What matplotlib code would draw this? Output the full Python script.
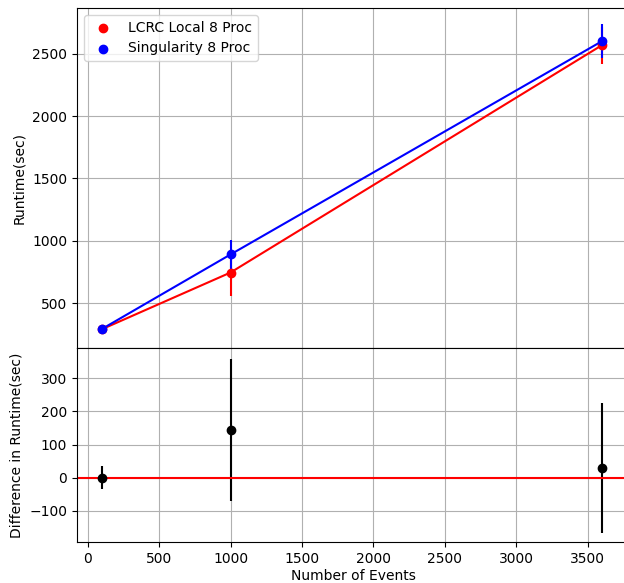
import matplotlib
matplotlib.use("Agg")
import matplotlib.pyplot as plt
import numpy as np

events = [100, 1000, 3600]
lcrc_runtime = [290, 745, 2570]
lcrc_err = [20, 185, 150]
sing_runtime = [292, 890, 2602]
sing_err = [20, 118, 138]
diff = [0, 145, 30]
diff_err = [35, 215, 197]

fig = plt.figure(figsize=(6.24, 5.83), dpi=100)
W, H = 624, 583
ax1 = fig.add_axes([77 / W, 1 - 348 / H, (629 - 77) / W, (348 - 8) / H])
ax2 = fig.add_axes([77 / W, 1 - 542 / H, (629 - 77) / W, (542 - 348) / H], sharex=ax1)

ax1.errorbar(events, lcrc_runtime, yerr=lcrc_err, color='red', fmt='none', ecolor='red')
ax1.plot(events, lcrc_runtime, color='red')
ax1.scatter(events, lcrc_runtime, color='red', label='LCRC Local 8 Proc', zorder=3)
ax1.errorbar(events, sing_runtime, yerr=sing_err, color='blue', fmt='none', ecolor='blue')
ax1.plot(events, sing_runtime, color='blue')
ax1.scatter(events, sing_runtime, color='blue', label='Singularity 8 Proc', zorder=3)
ax1.set_ylabel('Runtime(sec)')
ax1.grid(True)
ax1.legend(loc='upper left')
ax1.set_ylim(139, 2869)
plt.setp(ax1.get_xticklabels(), visible=False)

ax2.errorbar(events, diff, yerr=diff_err, fmt='o', color='black', ecolor='black')
ax2.axhline(0, color='red')
ax2.set_ylabel('Difference in Runtime(sec)')
ax2.set_xlabel('Number of Events', labelpad=2)
ax2.grid(True)
ax2.set_ylim(-195, 392)
ax2.set_xlim(-75, 3790)

fig.savefig('out.png', dpi=100)
